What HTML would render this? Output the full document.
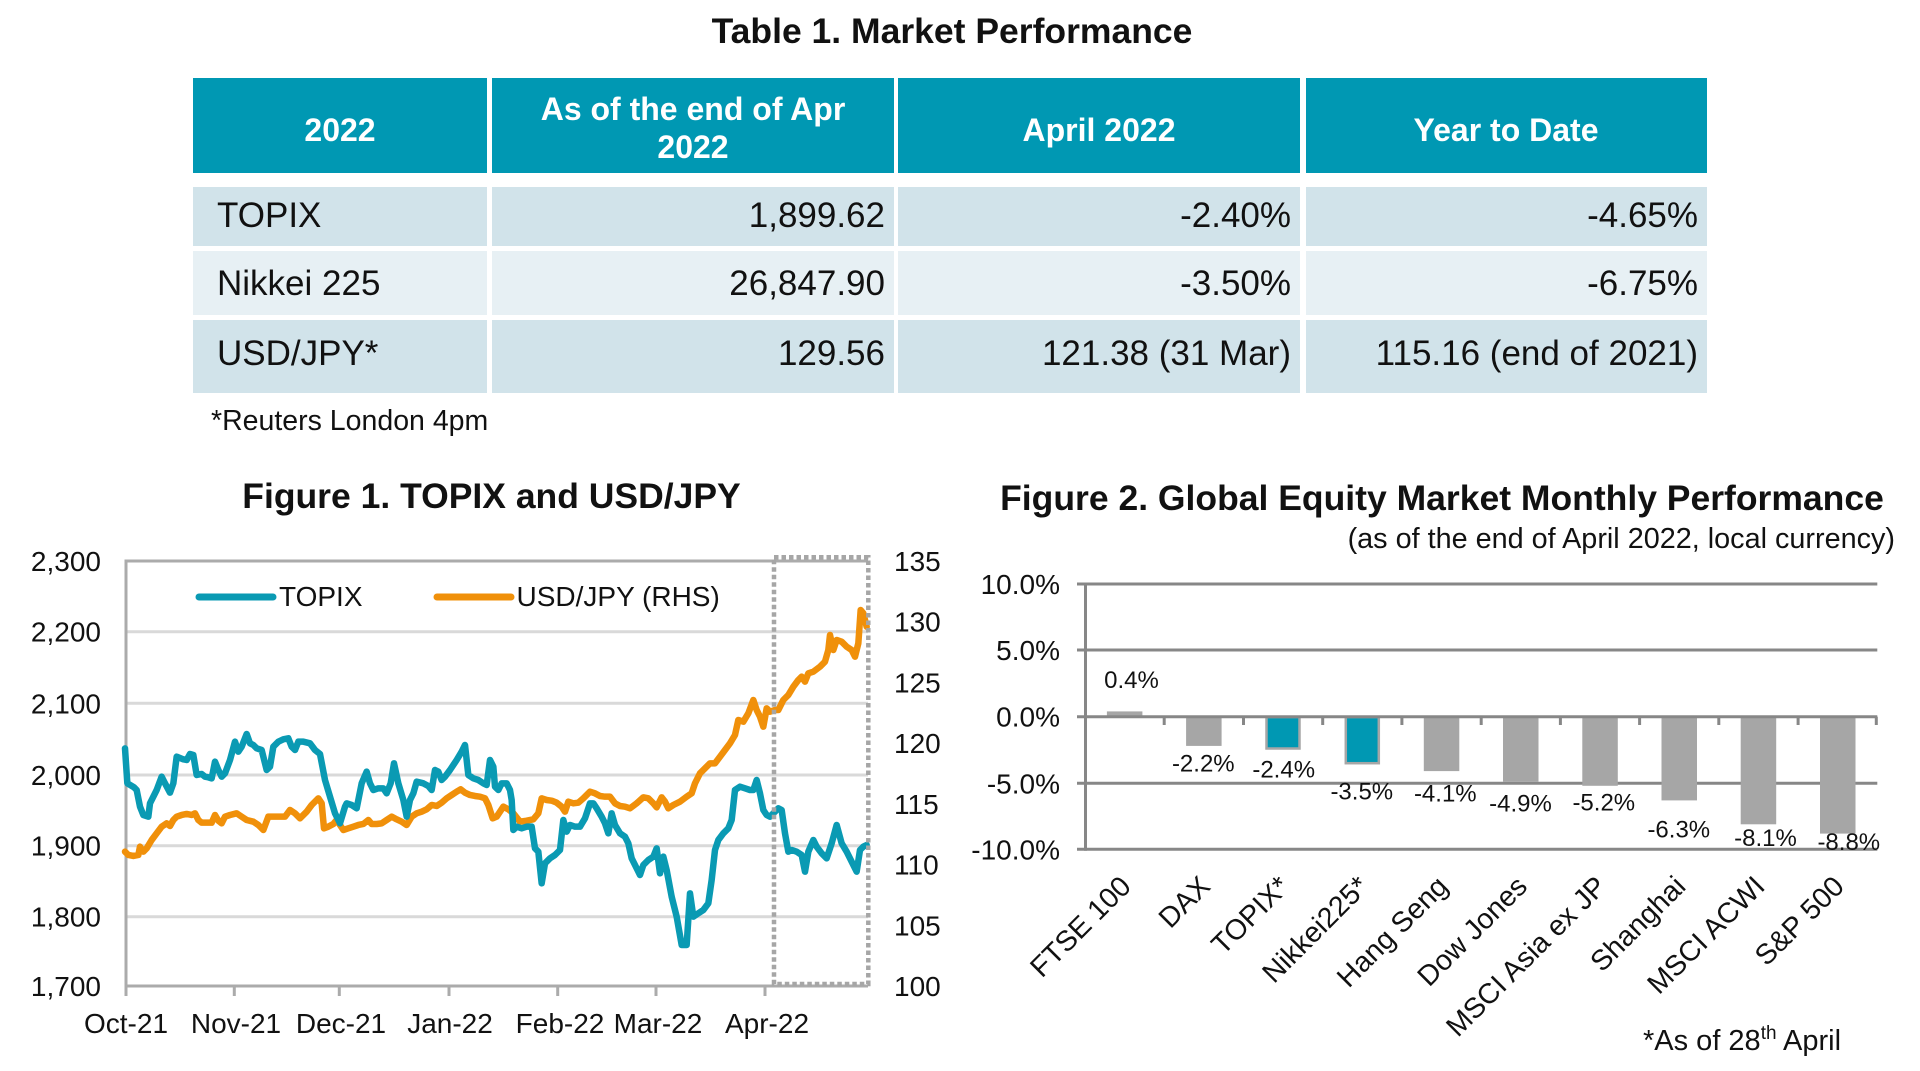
<!DOCTYPE html>
<html><head><meta charset="utf-8"><style>
html,body{margin:0;padding:0;background:#fff;}
svg{display:block;}
text{font-family:"Liberation Sans",Arial,sans-serif;fill:#111;}
.b{font-weight:bold;}
</style></head><body>
<svg width="1920" height="1071" viewBox="0 0 1920 1071" xmlns="http://www.w3.org/2000/svg">
<rect width="1920" height="1071" fill="#fff"/>
<!-- TABLE -->
<text class="b" x="952" y="43" font-size="35.5" text-anchor="middle">Table 1. Market Performance</text>
<g fill="#0098b3">
<rect x="193" y="78" width="294" height="95"/>
<rect x="492" y="78" width="402" height="95"/>
<rect x="898" y="78" width="402" height="95"/>
<rect x="1306" y="78" width="401" height="95"/>
</g>
<g fill="#d1e3ea">
<rect x="193" y="187" width="294" height="59"/><rect x="492" y="187" width="402" height="59"/><rect x="898" y="187" width="402" height="59"/><rect x="1306" y="187" width="401" height="59"/>
<rect x="193" y="320" width="294" height="73"/><rect x="492" y="320" width="402" height="73"/><rect x="898" y="320" width="402" height="73"/><rect x="1306" y="320" width="401" height="73"/>
</g>
<g fill="#e7f0f4">
<rect x="193" y="251" width="294" height="64"/><rect x="492" y="251" width="402" height="64"/><rect x="898" y="251" width="402" height="64"/><rect x="1306" y="251" width="401" height="64"/>
</g>
<g class="b" font-size="32" text-anchor="middle">
<text x="340" y="141" style="fill:#fff">2022</text>
<text x="693" y="120" style="fill:#fff">As of the end of Apr</text>
<text x="693" y="158" style="fill:#fff">2022</text>
<text x="1099" y="141" style="fill:#fff">April 2022</text>
<text x="1506" y="141" style="fill:#fff">Year to Date</text>
</g>
<g font-size="35">
<text x="217" y="227">TOPIX</text>
<text x="217" y="295">Nikkei 225</text>
<text x="217" y="365">USD/JPY*</text>
</g>
<g font-size="35" text-anchor="end">
<text x="885" y="227">1,899.62</text>
<text x="885" y="295">26,847.90</text>
<text x="885" y="365">129.56</text>
<text x="1291" y="227">-2.40%</text>
<text x="1291" y="295">-3.50%</text>
<text x="1291" y="365">121.38 (31 Mar)</text>
<text x="1698" y="227">-4.65%</text>
<text x="1698" y="295">-6.75%</text>
<text x="1698" y="365">115.16 (end of 2021)</text>
</g>
<text x="211" y="430" font-size="28.5">*Reuters London 4pm</text>

<!-- FIGURE 1 -->
<text class="b" x="491.5" y="508" font-size="35.5" text-anchor="middle">Figure 1. TOPIX and USD/JPY</text>
<g stroke="#d9d9d9" stroke-width="3">
<line x1="126" y1="631.7" x2="868" y2="631.7"/>
<line x1="126" y1="703.3" x2="868" y2="703.3"/>
<line x1="126" y1="775" x2="868" y2="775"/>
<line x1="126" y1="845.7" x2="868" y2="845.7"/>
<line x1="126" y1="916.7" x2="868" y2="916.7"/>
</g>
<g stroke="#ababab" stroke-width="3">
<line x1="126" y1="561" x2="868" y2="561"/>
<line x1="126" y1="559.5" x2="126" y2="996"/>
<line x1="124.5" y1="986" x2="868" y2="986"/>
<line x1="234.3" y1="986" x2="234.3" y2="996"/>
<line x1="339.3" y1="986" x2="339.3" y2="996"/>
<line x1="449" y1="986" x2="449" y2="996"/>
<line x1="557.7" y1="986" x2="557.7" y2="996"/>
<line x1="656" y1="986" x2="656" y2="996"/>
<line x1="765" y1="986" x2="765" y2="996"/>
</g>
<g font-size="28" text-anchor="end">
<text x="101" y="571">2,300</text>
<text x="101" y="641.7">2,200</text>
<text x="101" y="713.3">2,100</text>
<text x="101" y="785">2,000</text>
<text x="101" y="855.7">1,900</text>
<text x="101" y="926.7">1,800</text>
<text x="101" y="996">1,700</text>
</g>
<g font-size="28">
<text x="894" y="571">135</text>
<text x="894" y="631.7">130</text>
<text x="894" y="692.4">125</text>
<text x="894" y="753.1">120</text>
<text x="894" y="813.9">115</text>
<text x="894" y="874.6">110</text>
<text x="894" y="935.3">105</text>
<text x="894" y="996">100</text>
</g>
<g font-size="28" text-anchor="middle">
<text x="126" y="1033">Oct-21</text>
<text x="236" y="1033">Nov-21</text>
<text x="341" y="1033">Dec-21</text>
<text x="450" y="1033">Jan-22</text>
<text x="560" y="1033">Feb-22</text>
<text x="658" y="1033">Mar-22</text>
<text x="767" y="1033">Apr-22</text>
</g>
<g transform="translate(120,550) scale(0.33333)" fill="none" stroke-width="19.5" stroke-linejoin="round" stroke-linecap="round">
<polyline stroke="#f0900a" points="15,905 25,915 40,918 55,915 60,890 70,905 80,895 95,870 110,850 125,830 140,820 150,828 160,810 170,800 185,795 200,792 215,795 225,790 235,810 245,818 260,818 275,818 285,795 295,812 305,820 315,800 330,795 350,790 365,800 380,810 400,815 415,825 430,840 445,800 460,800 480,800 495,800 510,780 525,790 540,805 560,785 575,765 595,745 605,760 612,835 625,830 640,822 650,810 660,825 670,840 685,835 700,830 715,825 730,822 745,810 755,822 770,822 785,820 800,810 815,800 830,808 845,815 860,825 875,800 890,790 905,785 920,778 935,765 950,768 965,758 980,745 995,735 1010,725 1022,718 1035,728 1050,735 1065,738 1080,740 1095,745 1105,765 1118,805 1130,800 1150,770 1165,778 1180,790 1200,815 1220,812 1240,808 1255,790 1265,745 1280,750 1295,752 1310,758 1325,770 1335,785 1345,755 1360,760 1375,758 1390,745 1410,725 1425,730 1440,738 1455,740 1470,740 1485,760 1500,768 1515,770 1530,775 1550,760 1570,742 1585,745 1600,760 1610,772 1625,742 1635,755 1645,775 1660,765 1680,755 1700,740 1715,730 1725,700 1740,670 1755,655 1770,640 1785,640 1800,620 1815,600 1830,580 1845,555 1855,510 1870,515 1885,490 1900,450 1910,480 1920,500 1930,530 1940,475 1950,485 1965,480 1975,480 1990,450 2005,435 2020,410 2035,390 2045,380 2055,395 2065,370 2080,365 2100,350 2115,335 2125,300 2130,255 2140,300 2150,270 2165,275 2180,290 2195,300 2205,320 2215,280 2222,180 2230,190 2240,230"/>
<polyline stroke="#0a9ab3" points="15,595 22,700 42,712 50,720 60,770 70,795 85,800 90,760 110,720 125,680 135,700 150,728 160,700 170,620 190,628 200,630 210,612 220,615 230,675 245,672 255,680 265,682 275,685 285,635 295,660 305,680 315,670 330,630 345,575 355,605 365,590 380,552 390,580 400,585 410,595 425,600 440,660 450,650 460,590 475,575 490,568 505,565 515,590 525,600 535,575 550,575 570,580 585,600 600,612 615,690 630,740 645,790 660,820 675,770 680,760 695,765 710,775 725,700 740,665 750,700 760,720 775,715 790,715 800,730 812,700 822,640 835,700 850,750 860,800 870,750 880,730 890,695 910,700 925,708 935,720 945,660 955,665 965,690 975,680 990,660 1010,630 1025,605 1035,585 1045,675 1060,685 1075,690 1090,700 1100,705 1110,630 1120,650 1125,710 1135,720 1145,700 1160,700 1170,720 1175,750 1180,840 1190,830 1205,835 1220,830 1235,830 1245,895 1255,905 1265,1000 1275,940 1290,925 1305,915 1320,900 1330,810 1340,845 1350,825 1365,830 1380,830 1395,805 1410,760 1420,760 1430,775 1445,800 1455,820 1465,850 1475,790 1485,825 1500,850 1515,860 1525,880 1535,925 1550,955 1560,975 1570,945 1585,930 1600,920 1610,895 1620,970 1630,920 1640,960 1655,1040 1670,1100 1685,1185 1700,1185 1710,1030 1720,1100 1735,1090 1750,1080 1765,1060 1775,990 1785,900 1795,870 1810,850 1825,835 1835,810 1845,720 1860,710 1875,715 1890,720 1900,720 1910,690 1920,730 1930,780 1940,795 1950,800 1960,790 1975,775 1985,780 1995,850 2005,905 2015,900 2030,905 2045,915 2055,965 2065,905 2080,870 2090,890 2105,910 2120,925 2135,880 2150,825 2165,880 2180,905 2195,935 2210,965 2220,900 2230,890 2240,885"/>
</g>
<rect x="774" y="557.3" width="94.3" height="426.7" fill="none" stroke="#a6a6a6" stroke-width="4.5" stroke-dasharray="4.5 3"/>
<line x1="199" y1="597" x2="273" y2="597" stroke="#0a9ab3" stroke-width="7" stroke-linecap="round"/>
<text x="279" y="606" font-size="28">TOPIX</text>
<line x1="437" y1="597" x2="511" y2="597" stroke="#f0900a" stroke-width="7" stroke-linecap="round"/>
<text x="516.5" y="606" font-size="28">USD/JPY (RHS)</text>

<!-- FIGURE 2 -->
<text class="b" x="1442" y="510" font-size="35.5" text-anchor="middle">Figure 2. Global Equity Market Monthly Performance</text>
<text x="1895" y="548" font-size="28.8" text-anchor="end">(as of the end of April 2022, local currency)</text>
<g stroke="#878787" stroke-width="3">
<line x1="1077" y1="584" x2="1877.3" y2="584"/>
<line x1="1077" y1="650" x2="1877.3" y2="650"/>
<line x1="1077" y1="783.3" x2="1877.3" y2="783.3"/>
<line x1="1077" y1="849.3" x2="1877.3" y2="849.3"/>
</g>
<g fill="#a6a6a6">
<rect x="1106.9" y="711.4" width="35.5" height="5.3"/>
<rect x="1186.1" y="716.7" width="35.5" height="29.2"/>
<rect x="1423.8" y="716.7" width="35.5" height="54.4"/>
<rect x="1503" y="716.7" width="35.5" height="65.1"/>
<rect x="1582.3" y="716.7" width="35.5" height="69.1"/>
<rect x="1661.5" y="716.7" width="35.5" height="83.7"/>
<rect x="1740.7" y="716.7" width="35.5" height="107.6"/>
<rect x="1820" y="716.7" width="35.5" height="116.9"/>
</g>
<g fill="#0098b3" stroke="#a6a6a6" stroke-width="2.5">
<rect x="1266.5" y="717" width="33" height="31.5"/>
<rect x="1345.8" y="717" width="33" height="46.2"/>
</g>
<g stroke="#878787" stroke-width="3">
<line x1="1085.5" y1="582.5" x2="1085.5" y2="850.8"/>
<line x1="1077" y1="716.7" x2="1877.3" y2="716.7"/>
<line x1="1164.2" y1="716.7" x2="1164.2" y2="725"/>
<line x1="1243.5" y1="716.7" x2="1243.5" y2="725"/>
<line x1="1322.7" y1="716.7" x2="1322.7" y2="725"/>
<line x1="1401.9" y1="716.7" x2="1401.9" y2="725"/>
<line x1="1481.2" y1="716.7" x2="1481.2" y2="725"/>
<line x1="1560.4" y1="716.7" x2="1560.4" y2="725"/>
<line x1="1639.6" y1="716.7" x2="1639.6" y2="725"/>
<line x1="1718.8" y1="716.7" x2="1718.8" y2="725"/>
<line x1="1798.1" y1="716.7" x2="1798.1" y2="725"/>
<line x1="1876.3" y1="716.7" x2="1876.3" y2="725"/>
</g>
<g font-size="28" text-anchor="end">
<text x="1060" y="594">10.0%</text>
<text x="1060" y="660">5.0%</text>
<text x="1060" y="726.7">0.0%</text>
<text x="1060" y="793.3">-5.0%</text>
<text x="1060" y="859.3">-10.0%</text>
</g>
<g font-size="24" text-anchor="middle">
<text x="1131.5" y="688">0.4%</text>
<text x="1203.3" y="771.7">-2.2%</text>
<text x="1283.7" y="777.3">-2.4%</text>
<text x="1361.8" y="799.3">-3.5%</text>
<text x="1445.3" y="801.7">-4.1%</text>
<text x="1520.5" y="811.7">-4.9%</text>
<text x="1603.8" y="810.7">-5.2%</text>
<text x="1678.8" y="837.7">-6.3%</text>
<text x="1765.5" y="846">-8.1%</text>
<text x="1848.8" y="850">-8.8%</text>
</g>
<g font-size="28.5" text-anchor="end">
<text transform="translate(1132.6,888) rotate(-45)">FTSE 100</text>
<text transform="translate(1211.8,888) rotate(-45)">DAX</text>
<text transform="translate(1291.1,888) rotate(-45)">TOPIX*</text>
<text transform="translate(1370.3,888) rotate(-45)">Nikkei225*</text>
<text transform="translate(1449.5,888) rotate(-45)">Hang Seng</text>
<text transform="translate(1528.8,888) rotate(-45)">Dow Jones</text>
<text transform="translate(1608,888) rotate(-45)">MSCI Asia ex JP</text>
<text transform="translate(1687.2,888) rotate(-45)">Shanghai</text>
<text transform="translate(1766.5,888) rotate(-45)">MSCI ACWI</text>
<text transform="translate(1845.7,888) rotate(-45)">S&amp;P 500</text>
</g>
<text x="1643" y="1050" font-size="29">*As of 28<tspan font-size="19" dy="-11">th</tspan><tspan dy="11"> April</tspan></text>
</svg>
</body></html>
